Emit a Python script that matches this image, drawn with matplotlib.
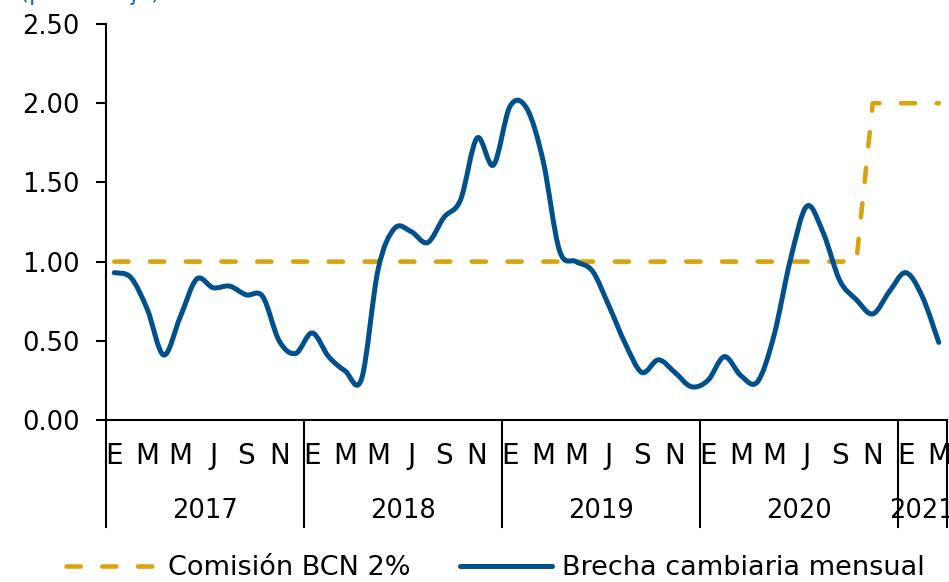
import numpy as np
import matplotlib
matplotlib.use("Agg")
import matplotlib.pyplot as plt
from matplotlib.path import Path
from matplotlib.patches import PathPatch
from matplotlib.lines import Line2D

# --- Datos (mensuales, enero 2017 - marzo 2021) ---
anios = ['2017', '2018', '2019', '2020', '2021']
meses_por_anio = [12, 12, 12, 12, 3]
letras_meses = ['E', 'F', 'M', 'A', 'M', 'J', 'J', 'A', 'S', 'O', 'N', 'D']

brecha = [
    0.93, 0.90, 0.70, 0.41, 0.65, 0.89, 0.835, 0.845, 0.79, 0.78, 0.50, 0.42,  # 2017
    0.55, 0.40, 0.31, 0.26, 0.95, 1.21, 1.19, 1.12, 1.28, 1.39, 1.78, 1.61,    # 2018
    1.98, 1.97, 1.64, 1.07, 1.00, 0.94, 0.72, 0.48, 0.30, 0.38, 0.30, 0.21,    # 2019
    0.25, 0.40, 0.28, 0.24, 0.53, 1.01, 1.35, 1.18, 0.88, 0.76, 0.67, 0.81,    # 2020
    0.93, 0.78, 0.49,                                                          # 2021
]
comision = [
    1.0, 1.0, 1.0, 1.0, 1.0, 1.0, 1.0, 1.0, 1.0, 1.0, 1.0, 1.0,  # 2017
    1.0, 1.0, 1.0, 1.0, 1.0, 1.0, 1.0, 1.0, 1.0, 1.0, 1.0, 1.0,  # 2018
    1.0, 1.0, 1.0, 1.0, 1.0, 1.0, 1.0, 1.0, 1.0, 1.0, 1.0, 1.0,  # 2019
    1.0, 1.0, 1.0, 1.0, 1.0, 1.0, 1.0, 1.0, 1.0, 1.0, 2.0, 2.0,  # 2020
    2.0, 2.0, 2.0,                                               # 2021
]

AZUL = '#00508C'
OCRE = '#D8A30F'
DASH = (0, (3.1, 4.7))


def curva_suave(x, y):
    # linea suavizada tipo Excel (bezier por tramos, catmull-rom)
    pts = np.column_stack([x, y]).astype(float)
    n = len(pts)
    verts = [pts[0]]
    codes = [Path.MOVETO]
    for i in range(n - 1):
        p0 = pts[i - 1] if i > 0 else pts[i]
        p1, p2 = pts[i], pts[i + 1]
        p3 = pts[i + 2] if i + 2 < n else pts[i + 1]
        verts += [p1 + (p2 - p0) / 6, p2 - (p3 - p1) / 6, p2]
        codes += [Path.CURVE4] * 3
    return Path(verts, codes)


x = np.arange(1, len(brecha) + 1)

fig = plt.figure(figsize=(9.49, 5.82), dpi=100)
ax = fig.add_axes([106 / 949, 162 / 582, 841 / 949, 396 / 582])

ax.plot(x, comision, color=OCRE, lw=3.3, linestyle=DASH,
        dash_capstyle='round', dash_joinstyle='round', zorder=2)
p_bre = PathPatch(curva_suave(x, brecha), fill=False, edgecolor=AZUL, lw=3.6,
                  zorder=3)
p_bre.set_capstyle('round')
p_bre.set_joinstyle('round')
ax.add_patch(p_bre)

ax.set_xlim(0.5, len(brecha) + 0.5)
ax.set_ylim(0, 2.5)
ax.set_yticks(np.arange(0, 2.51, 0.5))
ax.set_yticklabels([f'{v:.2f}' for v in np.arange(0, 2.51, 0.5)])
ax.tick_params(axis='y', labelsize=18.5, length=7, width=1.5, pad=12)

for s in ['top', 'right']:
    ax.spines[s].set_visible(False)
for s in ['left', 'bottom']:
    ax.spines[s].set_linewidth(1.5)

# eje de categorias en dos niveles
etiquetas = []
for n in meses_por_anio:
    etiquetas += letras_meses[:n]
ax.set_xticks(x[::2])
ax.set_xticklabels(etiquetas[::2])
ax.tick_params(axis='x', length=0, labelsize=20, pad=16)

tr = ax.get_xaxis_transform()
inicio = 0.5
bordes = [inicio]
for anio, n in zip(anios, meses_por_anio):
    fin = inicio + n
    ax.text((inicio + fin) / 2, -0.23, anio, transform=tr, ha='center',
            va='center', fontsize=18.5)
    bordes.append(fin)
    inicio = fin
for b in bordes:
    ax.plot([b, b], [0, -0.27], transform=tr, color='black', lw=1.5,
            clip_on=False)

fig.text(20 / 949, 1.0, '(porcentaje)', color='#2266AA', fontsize=16.5,
         ha='left', va='baseline')

handles = [
    Line2D([0], [0], color=OCRE, lw=3.3, linestyle=DASH,
           dash_capstyle='round'),
    Line2D([0], [0], color=AZUL, lw=3.6, solid_capstyle='round'),
]
fig.legend(handles, ['Comisión BCN 2%', 'Brecha cambiaria mensual'],
           loc='center', bbox_to_anchor=(0.522, 0.024), ncol=2, frameon=False,
           fontsize=19.5, handlelength=3.4, handletextpad=0.35,
           columnspacing=1.85)

fig.savefig('out.png', dpi=100)
